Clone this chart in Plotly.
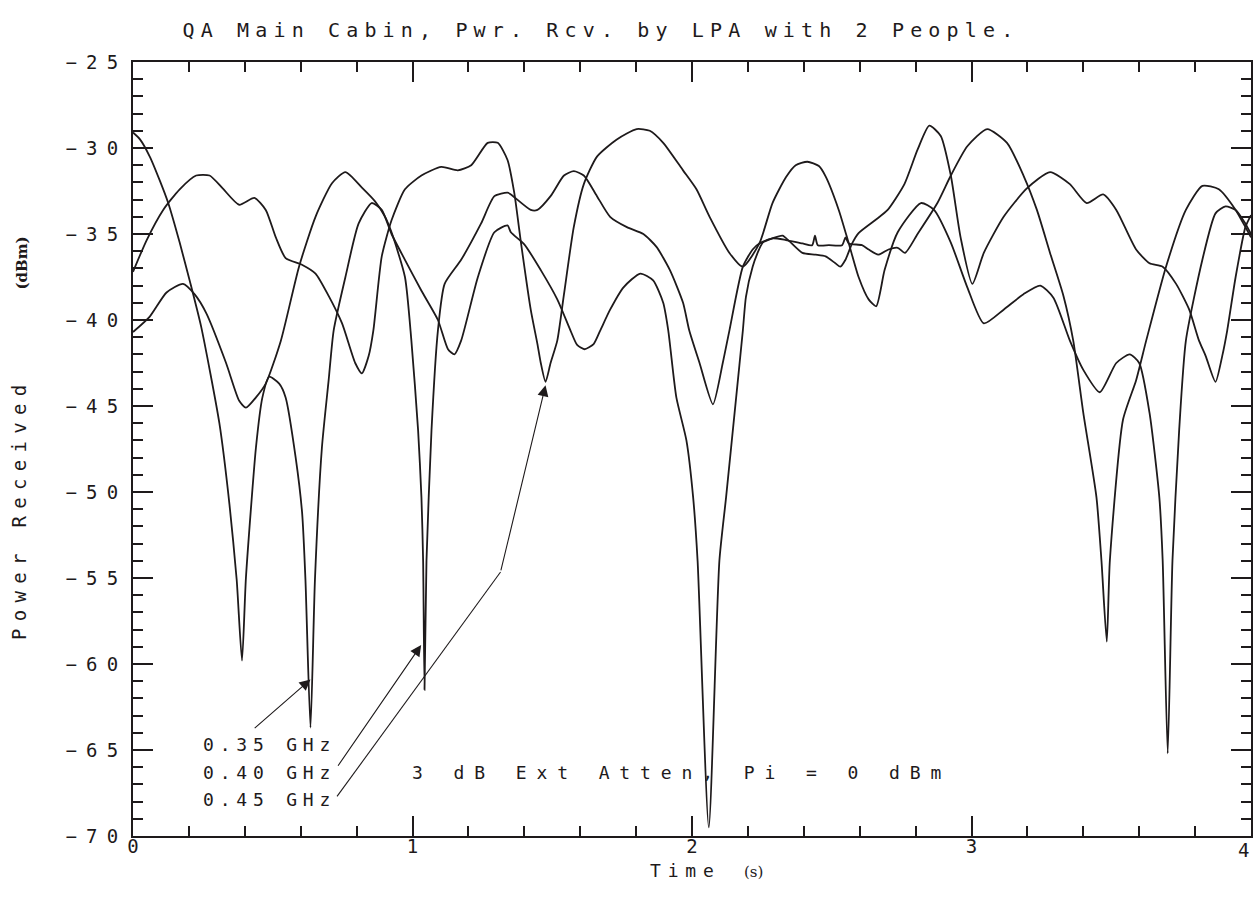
import plotly.graph_objects as go

# ---------------- data ----------------
t_035 = [0.000, 0.025, 0.060, 0.096, 0.126, 0.167, 0.209, 0.244, 0.309, 0.345, 0.371, 0.390, 0.404,
         0.440, 0.463, 0.487, 0.523, 0.546, 0.582, 0.605, 0.617, 0.635, 0.651, 0.676, 0.700, 0.718,
         0.760, 0.807, 0.854, 0.890, 0.925, 0.973, 1.032, 1.091, 1.127, 1.150, 1.174, 1.234, 1.293,
         1.340, 1.352, 1.400, 1.459, 1.518, 1.565, 1.589, 1.615, 1.648, 1.672, 1.707, 1.755, 1.815,
         1.861, 1.897, 1.915, 1.944, 1.980, 2.004, 2.020, 2.060, 2.098, 2.122, 2.158, 2.182, 2.193,
         2.217, 2.240, 2.253, 2.288, 2.324, 2.347, 2.395, 2.442, 2.478, 2.513, 2.531, 2.549, 2.573,
         2.596, 2.655, 2.700, 2.760, 2.807, 2.849, 2.890, 2.926, 2.961, 3.003, 3.044, 3.115, 3.198,
         3.281, 3.352, 3.412, 3.471, 3.518, 3.589, 3.637, 3.684, 3.732, 3.779, 3.814, 3.838, 3.873,
         3.897, 3.915, 3.945, 3.980, 4.000]
p_035 = [-29.1, -29.5, -30.5, -31.9, -33.2, -35.5, -38.1, -40.4, -46.0, -50.7, -55.1, -59.8, -55.0,
         -47.4, -44.5, -43.3, -43.7, -44.5, -48.0, -51.2, -55.1, -63.7, -55.1, -47.4, -43.5, -40.6,
         -37.5, -34.4, -33.2, -33.6, -35.0, -36.5, -38.3, -40.0, -41.7, -42.0, -41.2, -37.5, -34.9,
         -34.5, -34.9, -35.6, -37.1, -38.8, -40.6, -41.45, -41.7, -41.4, -40.6, -39.4, -38.1, -37.3,
         -37.7, -39.0, -40.6, -44.5, -47.0, -50.3, -54.0, -69.5, -54.0, -50.3, -44.5, -40.6, -38.65,
         -36.9, -35.9, -35.5, -35.25, -35.1, -35.4, -36.1, -36.2, -36.3, -36.7, -36.9, -36.5, -35.55,
         -34.95, -34.2, -33.6, -32.1, -30.1, -28.7, -29.3, -31.6, -35.2, -37.9, -36.1, -34.0, -32.35,
         -31.4, -32.1, -33.2, -32.7, -33.6, -35.9, -36.7, -36.9, -37.9, -39.4, -41.2, -42.1, -43.6,
         -42.1, -40.6, -37.5, -34.6, -33.9]

t_040 = [0.000, 0.060, 0.120, 0.179, 0.220, 0.262, 0.333, 0.380, 0.404, 0.440, 0.475, 0.529, 0.594,
         0.653, 0.712, 0.760, 0.819, 0.866, 0.902, 0.925, 0.973, 0.996, 1.020, 1.032, 1.038, 1.043,
         1.050, 1.068, 1.091, 1.115, 1.174, 1.245, 1.293, 1.340, 1.352, 1.423, 1.447, 1.494, 1.542,
         1.577, 1.613, 1.660, 1.707, 1.767, 1.826, 1.873, 1.921, 1.968, 1.990, 2.027, 2.075, 2.110,
         2.134, 2.182, 2.217, 2.241, 2.288, 2.336, 2.395, 2.430, 2.440, 2.450, 2.490, 2.537, 2.549,
         2.561, 2.608, 2.632, 2.667, 2.703, 2.736, 2.762, 2.807, 2.878, 2.926, 2.985, 3.056, 3.127,
         3.186, 3.234, 3.281, 3.329, 3.364, 3.400, 3.447, 3.465, 3.484, 3.495, 3.542, 3.589, 3.625,
         3.696, 3.767, 3.826, 3.885, 3.945, 3.980, 4.000]
p_040 = [-40.7, -39.8, -38.4, -37.9, -38.5, -39.6, -42.5, -44.7, -45.1, -44.5, -43.7, -41.2, -36.9,
         -34.0, -32.05, -31.4, -32.3, -33.1, -34.0, -34.9, -37.5, -41.2, -46.4, -50.3, -54.0, -61.5,
         -54.0, -46.4, -40.6, -37.9, -36.5, -34.4, -32.8, -32.6, -32.7, -33.6, -33.6, -32.8, -31.6,
         -31.35, -31.6, -32.8, -34.0, -34.6, -35.0, -35.75, -37.1, -39.0, -40.6, -42.5, -44.9, -42.5,
         -40.6, -36.9, -35.9, -35.55, -35.25, -35.35, -35.55, -35.65, -35.1, -35.65, -35.65, -35.65, -35.2,
         -35.55, -35.65, -35.9, -36.2, -35.9, -35.8, -36.1, -35.0, -33.2, -31.6, -29.9, -28.9, -29.7,
         -31.6, -33.6, -36.1, -38.6, -41.2, -45.4, -50.3, -54.0, -58.7, -54.0, -45.8, -43.5, -41.2,
         -36.9, -33.6, -32.2, -32.4, -33.6, -34.6, -35.2]

t_045 = [0.000, 0.049, 0.108, 0.167, 0.226, 0.274, 0.321, 0.380, 0.434, 0.475, 0.511, 0.546, 0.606,
         0.653, 0.700, 0.748, 0.795, 0.819, 0.843, 0.860, 0.890, 0.925, 0.973, 1.032, 1.103, 1.162,
         1.210, 1.269, 1.305, 1.340, 1.364, 1.388, 1.423, 1.447, 1.459, 1.476, 1.494, 1.518, 1.542,
         1.577, 1.613, 1.660, 1.731, 1.802, 1.849, 1.897, 1.968, 2.016, 2.063, 2.134, 2.182, 2.241,
         2.288, 2.336, 2.371, 2.413, 2.454, 2.478, 2.525, 2.561, 2.596, 2.632, 2.659, 2.689, 2.736,
         2.819, 2.866, 2.926, 2.985, 3.044, 3.115, 3.186, 3.246, 3.293, 3.352, 3.400, 3.459, 3.518,
         3.566, 3.600, 3.637, 3.672, 3.684, 3.702, 3.719, 3.743, 3.767, 3.826, 3.873, 3.909, 3.945,
         3.980, 4.000]
p_045 = [-37.2, -35.35, -33.6, -32.4, -31.6, -31.6, -32.35, -33.3, -32.9, -33.6, -35.2, -36.4, -36.8,
         -37.3, -38.6, -40.2, -42.5, -43.1, -42.1, -40.6, -36.3, -34.2, -32.4, -31.6, -31.1, -31.3,
         -31.0, -29.7, -29.7, -30.7, -32.6, -35.5, -39.4, -41.4, -42.5, -43.6, -42.5, -41.2, -38.5,
         -34.6, -32.1, -30.5, -29.5, -28.9, -29.0, -29.7, -31.3, -32.4, -34.0, -36.1, -36.9, -35.55,
         -33.2, -31.7, -31.0, -30.8, -31.05, -31.65, -33.6, -35.55, -37.5, -38.8, -39.2, -37.1, -34.9,
         -33.2, -33.6, -35.5, -38.1, -40.2, -39.4, -38.5, -38.0, -38.7, -41.2, -42.9, -44.2, -42.5,
         -42.0, -42.5, -45.4, -50.3, -54.0, -65.2, -54.0, -46.4, -41.2, -36.5, -33.8, -33.4, -33.6,
         -34.4, -35.0]

series_names = ["0.35 GHz", "0.40 GHz", "0.45 GHz"]

x_tick_vals = [0, 1, 2, 3]
x_tick_text = ["0", "1", "2", "3"]
x_last_tick = 4
y_tick_vals = [-70, -65, -60, -55, -50, -45, -40, -35, -30, -25]

# label / arrow placement (data coordinates)
label_t = [0.711, 0.711, 0.711]
label_p = [-64.7, -66.3, -67.85]
arrow_tip_t = [0.635, 1.031, 1.476]
arrow_tip_p = [-60.9, -58.9, -43.8]
arrow_tail_t = [0.430, 0.730, 1.315]
arrow_tail_p = [-63.8, -66.0, -54.65]
leader_t = [0.730, 1.315]
leader_p = [-67.7, -54.65]
note_t, note_p = 1.943, -66.3
note_text = "3 dB Ext Atten, Pi = 0 dBm"

INK = "#1e1a1b"
FONT = "DejaVu Sans Mono"


def spaced(s, px):
    # letter-spaced text without trailing space after the last glyph
    if len(s) < 2:
        return s
    return '<span style="letter-spacing:%spx">%s</span>%s' % (px, s[:-1], s[-1])


fig = go.Figure()
for tt, pp, nm in [(t_035, p_035, series_names[0]),
                   (t_040, p_040, series_names[1]),
                   (t_045, p_045, series_names[2])]:
    fig.add_trace(go.Scatter(x=tt, y=pp, mode="lines", name=nm,
                             line=dict(color=INK, width=1.8, shape="spline", smoothing=0.6),
                             showlegend=False, hoverinfo="x+y+name"))

# bent leader for the 0.45 GHz label
fig.add_trace(go.Scatter(x=leader_t, y=leader_p, mode="lines",
                         line=dict(color=INK, width=1.1), showlegend=False, hoverinfo="skip"))

annotations = []
for i in range(3):
    annotations.append(dict(x=label_t[i], y=label_p[i], xref="x", yref="y",
                            text=spaced(series_names[i], 5.8), showarrow=False,
                            xanchor="right", yanchor="middle",
                            font=dict(family=FONT, size=18, color=INK)))
    annotations.append(dict(x=arrow_tip_t[i], y=arrow_tip_p[i], xref="x", yref="y",
                            ax=arrow_tail_t[i], ay=arrow_tail_p[i], axref="x", ayref="y",
                            text="", showarrow=True, arrowhead=2, arrowsize=2.0,
                            arrowwidth=1.1, arrowcolor=INK, standoff=0))

annotations.append(dict(x=note_t, y=note_p, xref="x", yref="y", text=spaced(note_text, 9.9),
                        showarrow=False, xanchor="center", yanchor="middle",
                        font=dict(family=FONT, size=18, color=INK)))

# last x tick label (kept inside the canvas)
annotations.append(dict(x=x_last_tick, y=0, xref="x", yref="paper", text=str(x_last_tick),
                        showarrow=False, xanchor="right", yanchor="top", yshift=-1,
                        font=dict(family=FONT, size=19, color=INK)))

# axis titles
annotations.append(dict(x=0.491, y=-0.045, xref="paper", yref="paper", text=spaced("Time", 6.8),
                        showarrow=False, xanchor="center", yanchor="middle",
                        font=dict(family=FONT, size=18, color=INK)))
annotations.append(dict(x=0.555, y=-0.047, xref="paper", yref="paper", text="(s)",
                        showarrow=False, xanchor="center", yanchor="middle",
                        font=dict(family="DejaVu Serif", size=15, color=INK)))
annotations.append(dict(x=-0.102, y=0.4186, xref="paper", yref="paper",
                        text=spaced("Power Received", 7.3), textangle=-90,
                        showarrow=False, xanchor="center", yanchor="middle",
                        font=dict(family=FONT, size=19, color=INK)))
annotations.append(dict(x=-0.099, y=0.740, xref="paper", yref="paper", text="<b>(dBm)</b>",
                        textangle=-90, showarrow=False, xanchor="center", yanchor="middle",
                        font=dict(family="DejaVu Serif", size=15, color=INK)))

fig.update_layout(
    width=1256, height=904, autosize=False,
    margin=dict(l=133, r=3, t=62, b=68, pad=0),
    paper_bgcolor="white", plot_bgcolor="white",
    title=dict(text=spaced("QA Main Cabin, Pwr. Rcv. by LPA with 2 People.", 6.15),
               x=0.476, xref="container", xanchor="center",
               y=1 - 30 / 904, yref="container", yanchor="middle",
               font=dict(family=FONT, size=20, color=INK)),
    annotations=annotations,
    showlegend=False,
)

fig.update_xaxes(range=[0, 4], tickmode="array", tickvals=x_tick_vals,
                 ticktext=x_tick_text,
                 ticks="inside", ticklen=20, tickwidth=1.5, tickcolor=INK,
                 showline=True, linewidth=2, linecolor=INK, mirror="ticks",
                 showgrid=False, zeroline=False, ticklabelstandoff=-8,
                 tickfont=dict(family=FONT, size=19, color=INK),
                 minor=dict(ticks="inside", ticklen=10, tickwidth=1.5, tickcolor=INK,
                            tickmode="linear", tick0=0, dtick=0.2, showgrid=False))
fig.update_yaxes(range=[-70, -25], tickmode="array", tickvals=y_tick_vals,
                 ticktext=[spaced("\u2212" + str(abs(v)), 9.2) for v in y_tick_vals],
                 ticks="inside", ticklen=20, tickwidth=1.5, tickcolor=INK,
                 showline=True, linewidth=2, linecolor=INK, mirror="ticks",
                 showgrid=False, zeroline=False, ticklabelstandoff=9,
                 tickfont=dict(family=FONT, size=19, color=INK),
                 minor=dict(ticks="inside", ticklen=10, tickwidth=1.5, tickcolor=INK,
                            tickmode="linear", tick0=-70, dtick=1, showgrid=False))

fig.write_html("out.html")
